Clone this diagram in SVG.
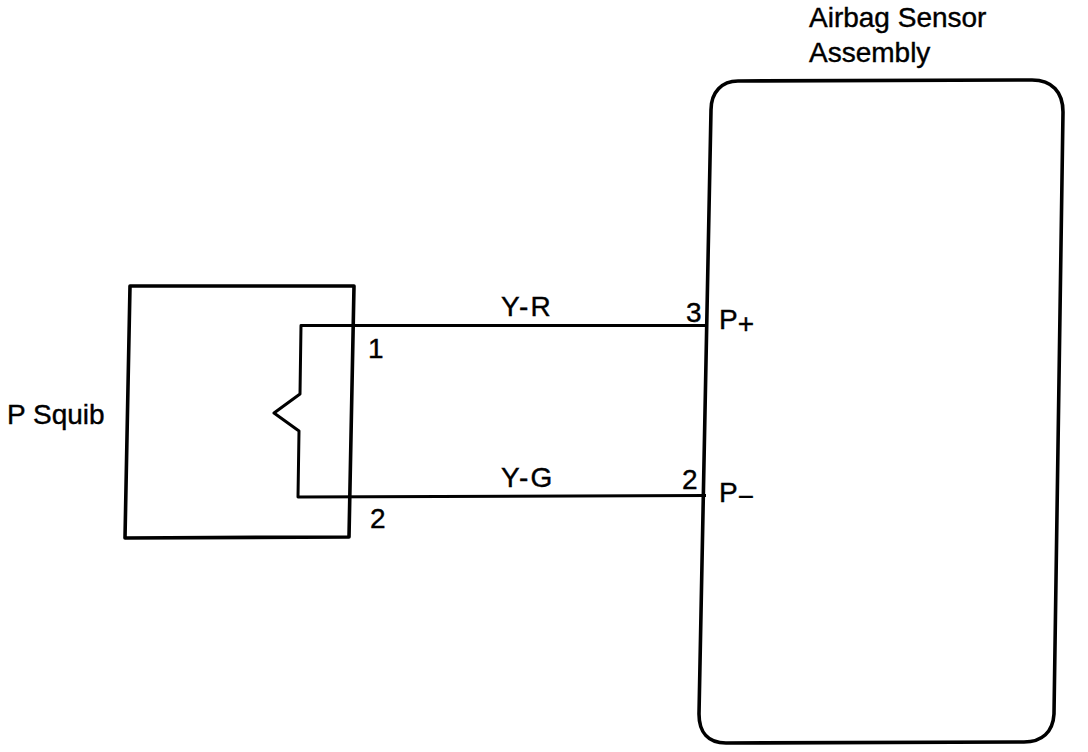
<svg xmlns="http://www.w3.org/2000/svg" width="1088" height="752" viewBox="0 0 1088 752">
<style>
.l{fill:none;stroke:#000;stroke-linejoin:round}
.b{stroke-width:3.6}
.w{stroke-width:3}
.t{font-family:"Liberation Sans",Arial,sans-serif;font-size:28px;fill:#000;stroke:#000;stroke-width:.4}
.s{letter-spacing:2px}
</style>
<rect width="1088" height="752" fill="#fff"/>
<g id="p-squib">
<path class="l b" d="M130 286L354 286L349 537L125 538Z"/>
<text class="t" x="7" y="424">P Squib</text>
<text class="t" x="368" y="358">1</text>
<text class="t" x="370" y="528">2</text>
</g>
<g id="airbag-sensor">
<path class="l b" d="M738 81L1032 80C1052 80 1063 92 1063 112L1054 714C1053 732 1042 742 1024 742L726 743C708 743 699 732 699 714L711 110C711 92 722 81 738 81Z"/>
<text class="t" x="809" y="27">Airbag Sensor</text>
<text class="t" x="809" y="62">Assembly</text>
<text class="t" x="719" y="329">P<tspan dy="4">+</tspan></text>
<text class="t" x="719" y="502">P<tspan dy="4">−</tspan></text>
<text class="t" x="686" y="322">3</text>
<text class="t" x="682" y="489">2</text>
</g>
<g id="connectors">
<path class="l w" d="M708 325.500L301 325.500L300 394L274 413L299 431L298 497L706 495.500"/>
<text class="t s" x="501" y="316">Y-R</text>
<text class="t s" x="501" y="487">Y-G</text>
</g>
</svg>
